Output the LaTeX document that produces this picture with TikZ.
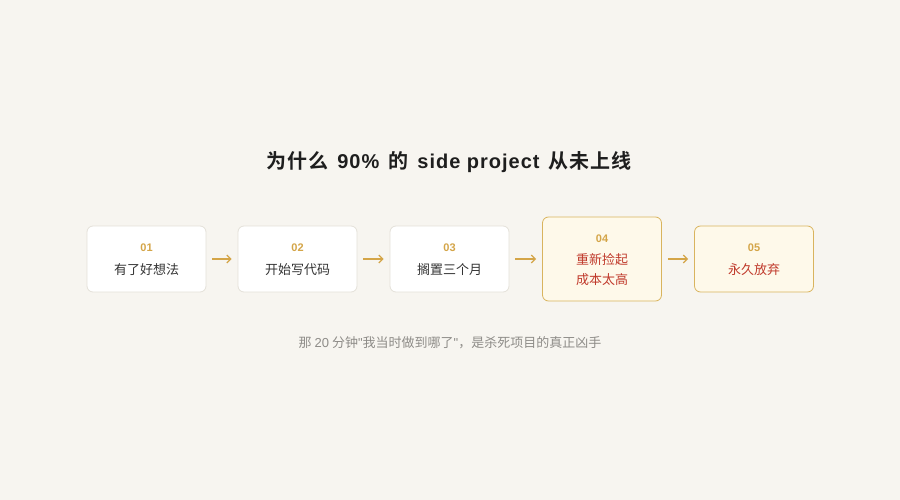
\documentclass[tikz,border=0pt]{standalone}
\usepackage{fontspec}
\usetikzlibrary{arrows.meta}
\setmainfont{Noto Sans CJK SC}
\newfontfamily\lat{Liberation Sans}
\newfontfamily\tcjk[LetterSpace=5]{Noto Sans CJK SC Bold}
\newfontfamily\tlat[LetterSpace=5]{Liberation Sans Bold}
\definecolor{bg}{HTML}{F7F5F0}
\definecolor{plainborder}{HTML}{E4E1D9}
\definecolor{hlfill}{HTML}{FEF9EA}
\definecolor{hlborder}{HTML}{D9B45E}
\definecolor{gold}{HTML}{D4A548}
\definecolor{redtxt}{HTML}{C0392B}
\definecolor{darktxt}{HTML}{333333}
\definecolor{greytxt}{HTML}{8E8C88}
\definecolor{titletxt}{HTML}{1E1E1E}
\tikzset{
  stepbox/.style={draw=plainborder, fill=white, rounded corners=6pt, line width=0.8pt,
    minimum width=119pt, minimum height=66pt, inner sep=0pt},
  hlbox/.style={stepbox, draw=hlborder, fill=hlfill},
  numtxt/.style={text=gold, font=\fontsize{11}{13}\selectfont\lat\bfseries},
  labtxt/.style={text=darktxt, font=\fontsize{13}{20}\selectfont, align=center},
  redlab/.style={labtxt, text=redtxt},
  flow/.style={draw=gold, line width=1.2pt, -{Straight Barb[length=4pt,width=8pt]}},
}
\begin{document}
\begin{tikzpicture}[x=1pt,y=-1pt]
\fill[bg] (0,0) rectangle (900,500);
\useasboundingbox (0,0) rectangle (900,500);
\node[text=titletxt, font=\fontsize{20}{22}\selectfont] (title) at (449,162)
  {\tcjk 为什么\hspace{9pt}\tlat 90\%\hspace{9pt}\tcjk 的\hspace{9pt}\tlat side project\hspace{9pt}\tcjk 从未上线};
\node[stepbox] (b1) at (146.5,259) {};
\node[stepbox] (b2) at (297.5,259) {};
\node[stepbox] (b3) at (449.5,259) {};
\node[hlbox, minimum height=84pt] (b4) at (602,259) {};
\node[hlbox] (b5) at (754,259) {};
\node[numtxt] (n1) at (146.5,248) {01};
\node[labtxt] (l1) at (146.5,269.5) {有了好想法};
\node[numtxt] (n2) at (297.5,248) {02};
\node[labtxt] (l2) at (297.5,269.5) {开始写代码};
\node[numtxt] (n3) at (449.5,248) {03};
\node[labtxt] (l3) at (449.5,269.5) {搁置三个月};
\node[numtxt] (n4) at (602,239) {04};
\node[redlab] (l4) at (602,269.5) {重新捡起\\成本太高};
\node[numtxt] (n5) at (754,248) {05};
\node[redlab] (l5) at (754,269.5) {永久放弃};
\draw[flow] ([xshift=6pt]b1.east) -- ([xshift=-6pt]b2.west);
\draw[flow] ([xshift=6pt]b2.east) -- ([xshift=-6pt]b3.west);
\draw[flow] ([xshift=6pt]b3.east) -- ([xshift=-6pt]b4.west);
\draw[flow] ([xshift=6pt]b4.east) -- ([xshift=-6pt]b5.west);
\node[text=greytxt, font=\fontsize{13}{15}\selectfont] (foot) at (450,343)
  {那 {\lat 20} 分钟{\lat "}我当时做到哪了{\lat "}，是杀死项目的真正凶手};
\end{tikzpicture}
\end{document}
